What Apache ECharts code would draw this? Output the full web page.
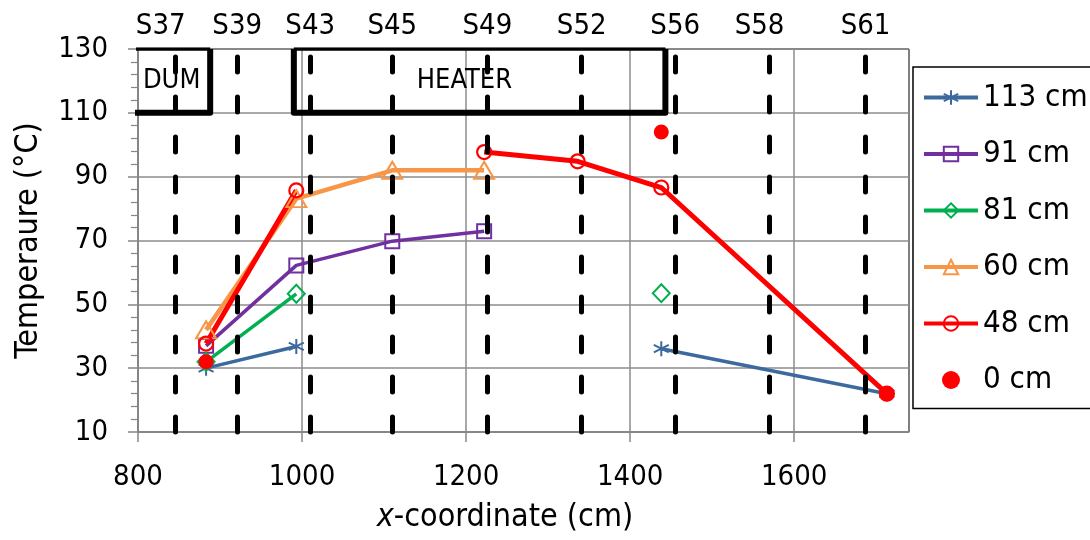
<!DOCTYPE html>
<html>
<head>
<meta charset="utf-8">
<script src="https://cdn.jsdelivr.net/npm/echarts@6/dist/echarts.min.js"></script>
<style>
  html, body { margin: 0; padding: 0; background: #fff; }
  #chart { width: 1090px; height: 540px; }
</style>
</head>
<body>
<div id="chart"></div>
<script>
const FONT = "'DejaVu Sans Condensed', 'Liberation Sans', sans-serif";

// x-coordinates (cm) of the measurement stations
const xCoords = [883, 993, 1110, 1222, 1336, 1438, 1713];

// temperatures (°C) at each depth; null = no reading at that station
const t113 = [30, 36.8, null, null, null, 36.1, 22];
const t91  = [37, 62.2, 69.8, 72.9, null, null, null];
const t81  = [32, 53.3, null, null, null, 53.5, null];
const t60  = [42, 83.1, 92, 92, null, null, null];
const t48  = [37.7, 85.7, null, 97.7, 94.8, 86.6, 22];
const t0   = [32, null, null, null, null, 104, 22];

// sensor columns
const sensorNames = ['S37', 'S39', 'S43', 'S45', 'S49', 'S52', 'S56', 'S58', 'S61'];
const sensorX     = [846, 921, 1010, 1110, 1226, 1341, 1455, 1570, 1687];

// DUM and HEATER zones
const zoneNames  = ['DUM', 'HEATER'];
const zoneFrom   = [790, 990];
const zoneTo     = [888, 1443];
const zoneLow    = 110;
const zoneHigh   = 130;
const zoneLabelX = [841, 1198];

// axis ticks
const xTicks = [800, 1000, 1200, 1400, 1600];
const yTicks = [10, 30, 50, 70, 90, 110, 130];

function pairs(vals) {
  return xCoords.map((x, i) => [x, vals[i] == null ? '-' : vals[i]]);
}

const hollow = (color, bw) => ({ color: 'rgba(0,0,0,0)', borderColor: color, borderWidth: bw, opacity: 1 });

const depthSeries = [
  { name: '113 cm', data: t113, color: '#3C6A9F', width: 3.5,
    symbol: 'path://M0,-6L0,6M-5.2,-3L5.2,3M-5.2,3L5.2,-3', size: 15, bw: 2 },
  { name: '91 cm', data: t91, color: '#7030A0', width: 3.5, symbol: 'rect', size: 14, bw: 2 },
  { name: '81 cm', data: t81, color: '#00B050', width: 3.5, symbol: 'diamond', size: [17, 18], bw: 2 },
  { name: '60 cm', data: t60, color: '#F79646', width: 4.5, symbol: 'triangle', size: [20, 17], bw: 2 },
  { name: '48 cm', data: t48, color: '#FF0000', width: 5, symbol: 'circle', size: 14, bw: 2.2 }
].map(s => ({
  name: s.name,
  type: 'line',
  data: pairs(s.data),
  symbol: s.symbol,
  symbolSize: s.size,
  showSymbol: true,
  lineStyle: { color: s.color, width: s.width },
  itemStyle: hollow(s.color, s.bw),
  emphasis: { disabled: true },
  z: 2
}));

const surfaceSeries = {
  name: '0 cm',
  type: 'scatter',
  data: pairs(t0).filter(p => p[1] !== '-'),
  symbol: 'circle',
  symbolSize: 15,
  itemStyle: { color: '#FF0000', opacity: 1 },
  emphasis: { disabled: true },
  z: 5
};

// zone sides (thick) and zone tops (along the plot's upper edge)
const zoneSides = zoneNames.map((n, i) => ({
  type: 'line',
  data: [
    [zoneFrom[i], zoneHigh], [zoneFrom[i], zoneLow],
    [zoneTo[i], zoneLow], [zoneTo[i], zoneHigh]
  ],
  symbol: 'none',
  lineStyle: { color: '#000', width: 6, join: 'round', cap: 'butt' },
  silent: true,
  z: 3
}));

const zoneTops = {
  type: 'line',
  data: zoneNames.flatMap((n, i) => [[zoneFrom[i], zoneHigh], [zoneTo[i], zoneHigh], [zoneTo[i], '-']]),
  symbol: 'none',
  lineStyle: { color: '#000', width: 3.5 },
  silent: true,
  z: 3
};

const zoneLabels = {
  type: 'scatter',
  data: zoneNames.map((n, i) => ({ name: n, value: [zoneLabelX[i], (zoneLow + zoneHigh) / 2] })),
  symbolSize: 1,
  itemStyle: { color: 'rgba(0,0,0,0)', opacity: 1 },
  label: {
    show: true, position: 'inside', formatter: '{b}',
    fontFamily: FONT, fontSize: 27, color: '#000'
  },
  silent: true,
  z: 4
};

const labelShift = { S37: -15, S58: -10 };

const sensorLines = {
  type: 'line',
  data: [],
  silent: true,
  z: 3,
  markLine: {
    symbol: ['none', 'none'],
    silent: true,
    animation: false,
    lineStyle: { color: '#000', width: 5, type: [15, 25], cap: 'round' },
    label: {
      show: true, position: 'end', distance: 8, formatter: '{b}',
      fontFamily: FONT, fontSize: 29, color: '#000'
    },
    emphasis: { disabled: true },
    data: sensorNames.map((n, i) => [
      { name: n, coord: [sensorX[i], yTicks[0]],
        label: { offset: [labelShift[n] || 0, 0] } },
      { coord: [sensorX[i], yTicks[yTicks.length - 1]] }
    ])
  }
};

const chart = echarts.init(document.getElementById('chart'), null, { renderer: 'canvas' });

chart.setOption({
  animation: false,
  backgroundColor: '#fff',
  grid: {
    left: 138, right: 181, top: 49, bottom: 108,
    show: true, borderColor: '#000', borderWidth: 1,
    outerBoundsMode: 'none'
  },
  legend: {
    orient: 'vertical',
    left: 913, top: 67,
    data: ['113 cm', '91 cm', '81 cm', '60 cm', '48 cm', '0 cm'],
    itemWidth: 54, itemHeight: 18, itemGap: 25.5,
    padding: [15, 12, 13, 9],
    borderColor: '#000', borderWidth: 1.5,
    selectedMode: false,
    lineStyle: { width: 4 },
    textStyle: { fontFamily: FONT, fontSize: 31, lineHeight: 31, color: '#000' }
  },
  xAxis: {
    type: 'value', min: 800, max: 1740, interval: 200,
    axisLine: { lineStyle: { color: '#868686', width: 1.5 } },
    axisTick: { show: true, length: 10, customValues: xTicks, lineStyle: { color: '#868686', width: 1.5 } },
    axisLabel: {
      customValues: xTicks, formatter: v => String(v),
      fontFamily: FONT, fontSize: 29, color: '#000', margin: 31
    },
    splitLine: { show: true, lineStyle: { color: '#8c8c8c', width: 1.5 } },
    name: '{i|x}-coordinate (cm)',
    nameLocation: 'middle',
    nameGap: 70,
    nameTextStyle: {
      fontFamily: FONT, fontSize: 32, color: '#000', padding: [0, 37, 0, 0],
      rich: { i: { fontFamily: FONT, fontSize: 32, fontStyle: 'italic', color: '#000' } }
    }
  },
  yAxis: {
    type: 'value', min: 10, max: 130, interval: 20,
    axisLine: { show: true, lineStyle: { color: '#868686', width: 1.5 } },
    axisTick: { show: true, length: 10, customValues: yTicks, lineStyle: { color: '#868686', width: 1.5 } },
    minorTick: { show: true, splitNumber: 5, length: 7, lineStyle: { color: '#868686', width: 1.2 } },
    axisLabel: { customValues: yTicks, fontFamily: FONT, fontSize: 29, color: '#000', margin: 30 },
    splitLine: { show: true, lineStyle: { color: '#8c8c8c', width: 1.5 } },
    name: 'Temperaure (°C)',
    nameLocation: 'middle',
    nameGap: 93,
    nameTextStyle: { fontFamily: FONT, fontSize: 32, color: '#000' }
  },
  series: [...depthSeries, surfaceSeries, ...zoneSides, zoneTops, zoneLabels, sensorLines]
});
</script>
</body>
</html>
